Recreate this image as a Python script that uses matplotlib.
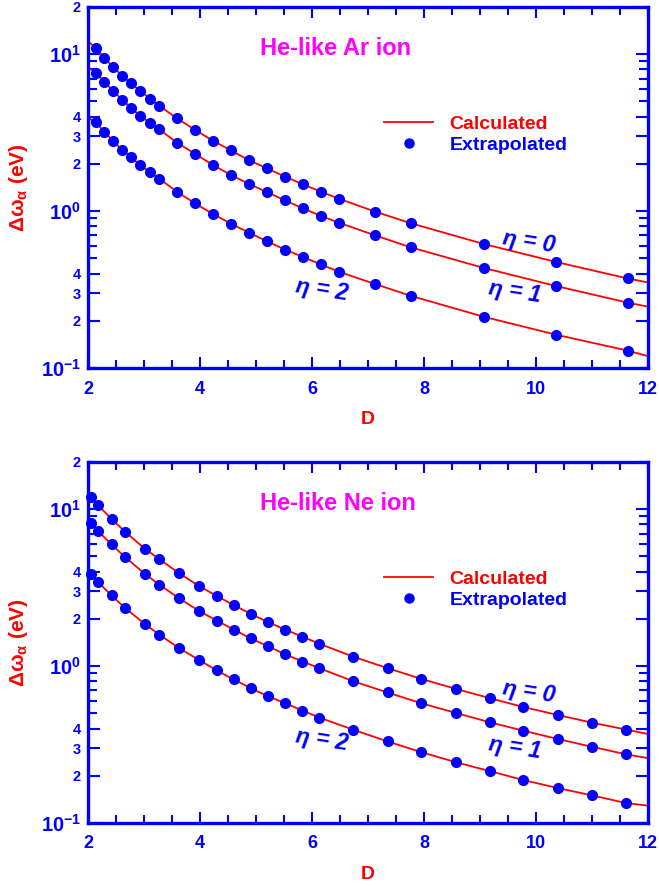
import matplotlib
matplotlib.use("Agg")
import matplotlib.pyplot as plt
from matplotlib.ticker import FixedLocator, FixedFormatter
from matplotlib.lines import Line2D

plt.rcParams['font.family'] = ['Liberation Sans', 'DejaVu Sans']
plt.rcParams['font.weight'] = 'bold'
plt.rcParams['mathtext.fontset'] = 'custom'
plt.rcParams['mathtext.rm'] = 'Liberation Sans:bold'
plt.rcParams['mathtext.bf'] = 'Liberation Sans:bold'
plt.rcParams['mathtext.it'] = 'Liberation Sans:bold:italic'
plt.rcParams['mathtext.default'] = 'rm'

BLUE = '#0000ff'
RED = '#ff0000'
MAG = '#ff00ff'

# ---------------- Data: He-like Ar ion (top panel) ----------------
ar_D = [2.14, 2.29, 2.45, 2.61, 2.77, 2.93, 3.11, 3.27, 3.59, 3.91, 4.23, 4.55,
        4.875, 5.20, 5.52, 5.84, 6.16, 6.48, 7.125, 7.77, 9.07, 10.36, 11.64]
ar_eta0 = [10.92, 9.53, 8.26, 7.31, 6.53, 5.83, 5.21, 4.70, 3.90, 3.30, 2.81, 2.44,
           2.11, 1.87, 1.66, 1.48, 1.33, 1.20, 0.993, 0.836, 0.617, 0.474, 0.372]
ar_eta1 = [7.64, 6.69, 5.83, 5.13, 4.54, 4.06, 3.64, 3.32, 2.73, 2.32, 1.97, 1.70,
           1.49, 1.32, 1.17, 1.04, 0.932, 0.844, 0.701, 0.587, 0.434, 0.333, 0.261]
ar_eta2 = [3.68, 3.21, 2.79, 2.46, 2.21, 1.96, 1.77, 1.61, 1.33, 1.12, 0.960, 0.832,
           0.729, 0.641, 0.568, 0.510, 0.457, 0.411, 0.343, 0.288, 0.212, 0.163, 0.129]
# calculated curve end values at D = 2 and D = 12
ar_calc_start = [12.1, 8.22, 3.94]
ar_calc_end = [0.351, 0.246, 0.119]

# ---------------- Data: He-like Ne ion (bottom panel) ----------------
ne_D = [2.05, 2.17, 2.42, 2.66, 3.02, 3.27, 3.63, 3.99, 4.30, 4.60, 4.91, 5.21,
        5.52, 5.83, 6.13, 6.73, 7.35, 7.95, 8.57, 9.18, 9.77, 10.39, 11.00, 11.61]
ne_eta0 = [12.0, 10.67, 8.68, 7.20, 5.58, 4.82, 3.90, 3.23, 2.80, 2.45, 2.15, 1.91,
           1.71, 1.54, 1.39, 1.15, 0.971, 0.829, 0.716, 0.624, 0.549, 0.488, 0.436, 0.394]
ne_eta1 = [8.18, 7.31, 5.97, 4.96, 3.86, 3.31, 2.70, 2.24, 1.95, 1.71, 1.50, 1.34,
           1.19, 1.07, 0.971, 0.802, 0.679, 0.580, 0.503, 0.438, 0.388, 0.343, 0.306, 0.274]
ne_eta2 = [3.86, 3.46, 2.82, 2.35, 1.85, 1.59, 1.30, 1.09, 0.939, 0.822, 0.723, 0.643,
           0.580, 0.521, 0.470, 0.394, 0.331, 0.283, 0.244, 0.214, 0.188, 0.167, 0.150, 0.134]
ne_calc_start = [12.6, 8.5, 4.0]
ne_calc_end = [0.369, 0.259, 0.129]

y_major = [0.1, 0.2, 0.3, 0.4, 1, 2, 3, 4, 10, 20]
y_major_labels = ['$10^{-1}$', '2', '3', '4', '$10^{0}$', '2', '3', '4', '$10^{1}$', '2']
y_minor = [0.5, 0.6, 0.7, 0.8, 0.9, 5, 6, 7, 8, 9]
x_major = [2, 4, 6, 8, 10, 12]
x_minor = [2.5, 3, 3.5, 4.5, 5, 5.5, 6.5, 7, 7.5, 8.5, 9, 9.5, 10.5, 11, 11.5]

W, H = 659, 886
fig = plt.figure(figsize=(W / 100, H / 100), dpi=100)


def px_axes(l, t, r, b):
    return fig.add_axes([l / W, 1 - b / H, (r - l) / W, (b - t) / H])


def panel(ax, D, series, starts, ends, title, eta_pos):
    for vals, s, e in zip(series, starts, ends):
        xs = [2.0] + list(D) + [12.0]
        ys = [s] + list(vals) + [e]
        ax.plot(xs, ys, color=RED, lw=1.3, zorder=2)
    for vals in series:
        ax.plot(D, vals, 'o', color=BLUE, ms=7, mec=BLUE, zorder=4, clip_on=False)
    ax.set_yscale('log')
    ax.set_xlim(2, 12)
    ax.set_ylim(0.1, 20)
    for sp in ax.spines.values():
        sp.set_color(BLUE)
        sp.set_linewidth(2.4)
    ax.xaxis.set_major_locator(FixedLocator(x_major))
    ax.xaxis.set_minor_locator(FixedLocator(x_minor))
    ax.set_xticklabels([str(v) for v in x_major])
    ax.yaxis.set_major_locator(FixedLocator(y_major))
    ax.yaxis.set_major_formatter(FixedFormatter(y_major_labels))
    ax.yaxis.set_minor_locator(FixedLocator(y_minor))
    ax.yaxis.set_minor_formatter(FixedFormatter([''] * len(y_minor)))
    ax.tick_params(which='both', direction='in', top=True, right=True,
                   color=BLUE, width=1.5, labelcolor=BLUE)
    ax.tick_params(axis='x', which='major', length=8, pad=9, labelsize=13)
    ax.tick_params(axis='x', which='minor', length=5.5)
    ax.tick_params(axis='y', which='major', length=8.5, pad=5)
    ax.tick_params(axis='y', which='minor', length=6.5)
    for lab in ax.get_yticklabels():
        lab.set_fontsize(14.5 if '10' in lab.get_text() else 10.5)
        lab.set_fontweight('bold')
    for lab in ax.get_xticklabels():
        lab.set_fontweight('bold')
    ax.set_xlabel('D', color=RED, fontsize=14, fontweight='bold', labelpad=10)
    ax.set_ylabel(r'Δω$_{\alpha}$ (eV)', color=RED, fontsize=15, fontweight='bold', labelpad=8)
    ax.text(0.308, 0.886, title, transform=ax.transAxes, color=MAG, fontsize=17,
            fontweight='bold', ha='left', va='center')
    handles = [Line2D([], [], color=RED, lw=1.3),
               Line2D([], [], ls='none', marker='o', color=BLUE, ms=6.5)]
    ax.legend(handles, ['Calculated', 'Extrapolated'], loc='upper left',
              bbox_to_anchor=(0.529, 0.701), frameon=False,
              handlelength=2.5, handletextpad=0.85, labelspacing=0.18,
              borderpad=0, borderaxespad=0, labelcolor=[RED, BLUE],
              prop={'weight': 'bold', 'size': 14})
    for (x, y, t) in eta_pos:
        ax.text(x, y, t, color=BLUE, fontsize=16.5, fontweight='bold', style='italic',
                rotation=-9, ha='center', va='center', rotation_mode='anchor')


ax1 = px_axes(88, 7, 648, 368)
panel(ax1, ar_D, [ar_eta0, ar_eta1, ar_eta2], ar_calc_start, ar_calc_end,
      'He-like Ar ion',
      [(9.875, 0.641, 'η = 0'), (9.625, 0.307, 'η = 1'), (6.17, 0.315, 'η = 2')])

ax2 = px_axes(88, 462, 648, 823)
panel(ax2, ne_D, [ne_eta0, ne_eta1, ne_eta2], ne_calc_start, ne_calc_end,
      'He-like Ne ion',
      [(9.875, 0.682, 'η = 0'), (9.625, 0.303, 'η = 1'), (6.17, 0.341, 'η = 2')])

fig.savefig('out.png', dpi=100)
